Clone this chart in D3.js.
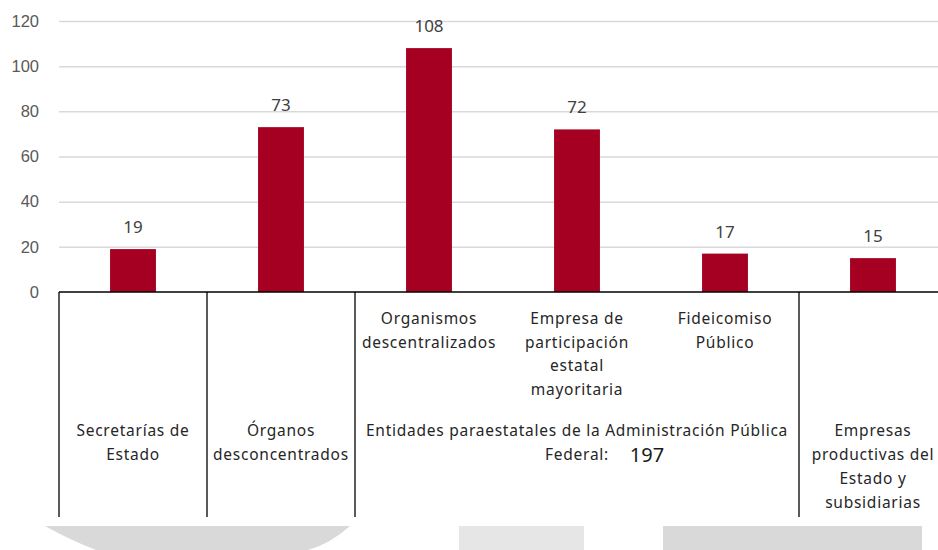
<!DOCTYPE html>
<html>
<head>
<meta charset="utf-8">
<script src="https://cdn.jsdelivr.net/npm/d3@7"></script>
<style>
  body { margin: 0; background: #fff; }
  svg { display: block; font-family: "Noto Sans", sans-serif; }
  .tick text { fill: #595959; font-size: 16.5px; }
  .lbl { fill: #262626; font-size: 15.5px; letter-spacing: 0.75px; }
</style>
</head>
<body>
<main></main>
<script>
// bar data
const CATEGORIES = ["Secretarías de Estado", "Órganos desconcentrados", "Organismos descentralizados",
  "Empresa de participación estatal mayoritaria", "Fideicomiso Público", "Empresas productivas del Estado y subsidiarias"];
const VALUES = [19, 73, 108, 72, 17, 15];
// inner row labels (blank where the group label covers the bar)
const SUB_LABELS = ["", "", "Organismos\ndescentralizados", "Empresa de\nparticipación\nestatal\nmayoritaria", "Fideicomiso\nPúblico", ""];
// outer row: groups and how many bars each spans
const GROUP_LABELS = ["Secretarías de\nEstado", "Órganos\ndesconcentrados",
  "Entidades paraestatales de la Administración Pública\nFederal:", "Empresas\nproductivas del\nEstado y\nsubsidiarias"];
const GROUP_SPANS = [1, 1, 3, 1];
const GROUP_TOTAL = [null, null, 197, null];
const Y_TICKS = [0, 20, 40, 60, 80, 100, 120];

const W = 938, H = 550;
const margin = {top: 21, left: 59};
const plotBottom = 292
    , plotRight = 947
    , dividerBottom = 517;

const svg = d3.select("main").append("svg")
    .attr("width", W)
    .attr("height", H);

const x = d3.scaleBand()
    .domain(d3.range(CATEGORIES.length))
    .range([margin.left, plotRight])
    .paddingInner(0.69)
    .paddingOuter(0.345);

const y = d3.scaleLinear()
    .domain([0, 120])
    .range([plotBottom, margin.top]);

// gridlines + y labels
const yAxis = svg.append("g")
    .attr("transform", `translate(${margin.left},0)`)
    .call(d3.axisLeft(y).tickValues(Y_TICKS).tickSize(-(W - margin.left)).tickPadding(20));
yAxis.select(".domain").remove();
yAxis.selectAll(".tick line")
    .attr("stroke", "#d9d9d9")
    .attr("stroke-width", 1.5)
    .filter(d => d === 0).remove();

// bars
svg.selectAll(".bar")
    .data(VALUES)
  .enter().append("rect")
    .attr("class", "bar")
    .attr("x", (d, i) => x(i))
    .attr("width", x.bandwidth())
    .attr("y", d => y(d))
    .attr("height", d => y(0) - y(d))
    .attr("fill", "#a50021");

svg.selectAll(".val")
    .data(VALUES)
  .enter().append("text")
    .attr("class", "val")
    .attr("x", (d, i) => x(i) + x.bandwidth() / 2)
    .attr("y", d => y(d) - 16)
    .attr("text-anchor", "middle")
    .attr("fill", "#404040")
    .style("font-size", "17px")
    .text(d => d);

// x axis line
svg.append("line")
    .attr("x1", margin.left).attr("x2", W)
    .attr("y1", plotBottom).attr("y2", plotBottom)
    .attr("stroke", "#000").attr("stroke-width", 1.5);

// group dividers
const step = x.step();
const bounds = [0];
GROUP_SPANS.forEach(s => bounds.push(bounds[bounds.length - 1] + s));
bounds.forEach(b => {
  const bx = margin.left + b * step;
  if (bx > W) return;
  svg.append("line")
      .attr("x1", bx).attr("x2", bx)
      .attr("y1", plotBottom).attr("y2", dividerBottom)
      .attr("stroke", "#000").attr("stroke-width", 1.3);
});

function multiline(sel, txt, lh) {
  txt.split("\n").forEach((t, i) => {
    sel.append("tspan")
        .attr("x", sel.attr("x"))
        .attr("dy", i === 0 ? 0 : lh)
        .text(t);
  });
}

// inner labels
SUB_LABELS.forEach((t, i) => {
  if (!t) return;
  const el = svg.append("text")
      .attr("class", "lbl")
      .attr("x", x(i) + x.bandwidth() / 2)
      .attr("y", 324)
      .attr("text-anchor", "middle");
  multiline(el, t, 23.5);
});

// outer labels
GROUP_LABELS.forEach((t, g) => {
  const cx = margin.left + (bounds[g] + GROUP_SPANS[g] / 2) * step;
  const el = svg.append("text")
      .attr("class", "lbl")
      .attr("x", cx)
      .attr("y", 436)
      .attr("text-anchor", "middle");
  multiline(el, t, 24);
  if (GROUP_TOTAL[g] != null) {
    svg.append("text")
        .attr("x", cx + 70)
        .attr("y", 462)
        .attr("text-anchor", "middle")
        .attr("fill", "#1a1a1a")
        .style("font-size", "20px")
        .text(GROUP_TOTAL[g]);
  }
});

// grey shapes cut off at the bottom edge
const deco = svg.append("g");
deco.append("path")
    .attr("d", "M45,526 L350,526 Q330,544 308,550 L96,550 Q70,540 45,526 Z")
    .attr("fill", "#d9d9d9");
deco.append("rect")
    .attr("x", 459).attr("y", 526).attr("width", 125).attr("height", 24)
    .attr("fill", "#e6e6e6");
deco.append("rect")
    .attr("x", 663).attr("y", 526).attr("width", 259).attr("height", 24)
    .attr("fill", "#d9d9d9");
</script>
</body>
</html>
